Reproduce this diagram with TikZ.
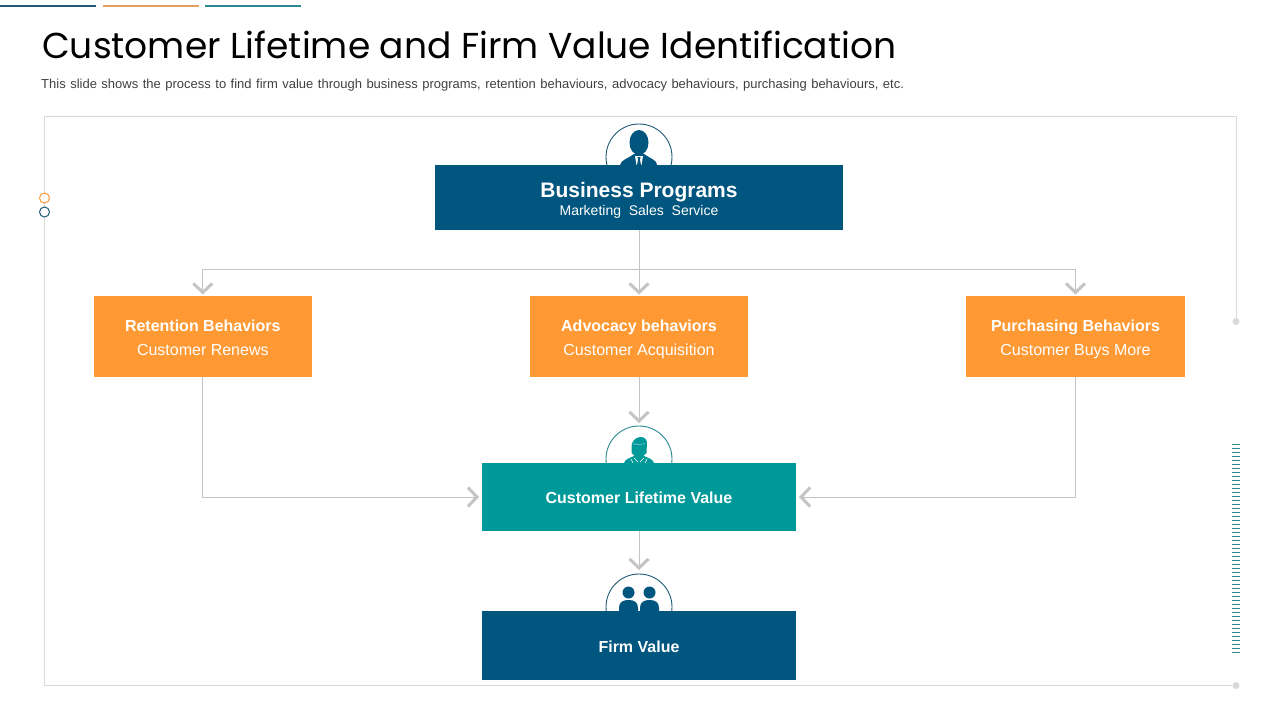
\documentclass[tikz,border=0pt]{standalone}
\usepackage{fontspec}
\setmainfont{Liberation Sans}
\newfontfamily\titlefont{Poppins}
\usetikzlibrary{arrows.meta,positioning,backgrounds}
\definecolor{navyblue}{HTML}{00567F}
\definecolor{darkbar}{HTML}{1F5B75}
\definecolor{orangebox}{HTML}{FF9933}
\definecolor{orangebar}{HTML}{E0A060}
\definecolor{tealbox}{HTML}{009999}
\definecolor{tealbar}{HTML}{2A8A8F}
\definecolor{framegray}{HTML}{D9D9D9}
\definecolor{flowgray}{HTML}{C6C3C7}
\newcommand{\orangeup}{\rule[-1pt]{0pt}{19.6pt}}
\newcommand{\orangelow}{\rule[-4pt]{0pt}{15pt}}
\newcommand{\lowline}{\rule[-3.5pt]{0pt}{20pt}}
\begin{document}
\begin{tikzpicture}[x=1pt,y=-1pt,
			block/.style = {shape=rectangle, align=center, text=white, inner sep=0pt, outer sep=0pt},
			navyblock/.style = {block, fill=navyblue, minimum width=408pt, minimum height=65pt},
			orangeblock/.style = {block, fill=orangebox, minimum width=218.6pt, minimum height=81pt, font=\fontsize{16}{24}\selectfont},
			lowblock/.style = {block, minimum width=314pt, font=\fontsize{16}{20}\selectfont\bfseries},
			ring/.style = {draw, shape=circle, fill=white, minimum size=66pt, inner sep=0pt, outer sep=0pt, line width=0.9pt},
			flow/.style = {draw=flowgray, line width=1pt, -{Straight Barb[length=9pt,width=19pt,line width=3pt]}, shorten >=1.5pt},
			topbar/.style = {line width=2pt},
			framedot/.style = {shape=circle, fill=framegray, minimum size=7pt, inner sep=0pt}
			]
			\useasboundingbox (0,0) rectangle (1280,720);
			% header
			\node [anchor=west, inner sep=0pt, font=\fontsize{36}{40}\titlefont] (title) at (42,45) {Customer Lifetime and Firm Value Identification};
			\node [anchor=west, inner sep=0pt, text=black!75, font=\fontsize{13}{15}\selectfont] (subtitle) at (41,85) {\spaceskip=4.5pt This slide shows the process to find firm value through business programs, retention behaviours, advocacy behaviours, purchasing behaviours, etc.};
			\draw[topbar,darkbar] (0,5.5) -- (96,5.5);
			\draw[topbar,orangebar] (103,5.5) -- (199,5.5);
			\draw[topbar,tealbar] (205,5.5) -- (301,5.5);
			% frame
			\node [framedot] (dotup) at (1236,321.5) {};
			\node [framedot] (dotlow) at (1236,685.5) {};
			\draw[framegray,line width=1pt] (dotup) -- (1236,116.5) -- (44.5,116.5) -- (44.5,685.5) -- (dotlow);
			\node [draw=orangebox, line width=1pt, shape=circle, fill=white, minimum size=10pt, inner sep=0pt] (ringa) at (44.5,198) {};
			\node [draw=darkbar, line width=1pt, shape=circle, fill=white, minimum size=10pt, inner sep=0pt] (ringb) at (44.5,212) {};
			\foreach \i in {0,...,52}
				\draw[tealbar,line width=0.8pt] (1232,444.5+4*\i) -- (1240,444.5+4*\i);
			% blocks
			\node [navyblock] (programs) at (639,197.5) {\rule{0pt}{20.5pt}{\fontsize{21}{22}\selectfont\bfseries Business Programs}\\[3pt]{\fontsize{14}{16}\selectfont\spaceskip=7.8pt Marketing Sales Service}};
			\node [orangeblock, below=66pt of programs] (advocacy) {\orangeup\textbf{Advocacy behaviors}\\\orangelow Customer Acquisition};
			\node [orangeblock, left=217.6pt of advocacy] (retention) {\orangeup\textbf{Retention Behaviors}\\\orangelow Customer Renews};
			\node [orangeblock, right=217.9pt of advocacy] (purchasing) {\orangeup\textbf{Purchasing Behaviors}\\\orangelow Customer Buys More};
			\node [lowblock, minimum height=68pt, fill=tealbox, below=86pt of advocacy] (lifetime) {\lowline Customer Lifetime Value};
			\node [lowblock, minimum height=69pt, fill=navyblue, below=80pt of lifetime] (firm) {\lowline Firm Value};
			% icons
			\begin{scope}[on background layer]
				\node [ring, draw=darkbar, above=-25pt of programs] (programsicon) {};
				\node [ring, draw=tealbar, above=-29pt of lifetime] (lifetimeicon) {};
				\node [ring, draw=darkbar, above=-29pt of firm] (firmicon) {};
				\begin{scope}[shift={(programsicon.center)}]
					\fill[navyblue] (0,-14.5) ellipse (9.5pt and 12.5pt);
					\fill[navyblue] (-19,8) .. controls (-18,3) and (-12,2) .. (-5,-3) -- (5,-3) .. controls (12,2) and (18,3) .. (18,8) -- cycle;
					\fill[white] (-4,-1) -- (4,-1) -- (2.5,8) -- (-2.5,8) -- cycle;
					\fill[navyblue] (-1.6,0) -- (1.6,0) -- (0.9,2.5) -- (2,8) -- (-2,8) -- (-0.9,2.5) -- cycle;
				\end{scope}
				\begin{scope}[shift={(lifetimeicon.center)}]
					\fill[tealbox] (-7.5,-12) .. controls (-8,-22) and (6,-26) .. (8,-17) -- (7.5,-6) .. controls (5.5,-1) and (-5.5,-1) .. (-7.5,-6) -- cycle;
					\fill[white!35!tealbox] (-6,-15) .. controls (-3,-13.5) and (3,-13.5) .. (6,-15.5) -- (6,-16.2) .. controls (3,-14.5) and (-3,-14.5) .. (-6,-16) -- cycle;
					\fill[tealbox] (-15,4) .. controls (-14,0) and (-9,-1) .. (-5,-3) -- (5,-3) .. controls (9,-1) and (14,0) .. (15,4) -- cycle;
					\draw[white,line width=0.6pt] (-5,-1) -- (-1,3) (5,-1) -- (1,3) (-8,0) -- (-6,4) (8,0) -- (6,4);
				\end{scope}
				\begin{scope}[shift={(firmicon.center)}]
					\fill[navyblue] (-10.5,-14.5) circle (6pt) (10.5,-14.5) circle (6pt);
					\fill[navyblue] (-20,4) -- (-20,1) .. controls (-20,-5) and (-16,-7) .. (-10.5,-7) .. controls (-5,-7) and (-1,-5) .. (-1,1) -- (-1,4) -- cycle;
					\fill[navyblue] (1,4) -- (1,1) .. controls (1,-5) and (5,-7) .. (10.5,-7) .. controls (16,-7) and (20,-5) .. (20,1) -- (20,4) -- cycle;
				\end{scope}
			\end{scope}
			% connectors
			\coordinate (branch) at ([yshift=-39pt]programs.south);
			\draw[flow] (programs) -- (advocacy);
			\draw[flow] (branch) -| (retention);
			\draw[flow] (branch) -| (purchasing);
			\draw[flow,shorten >=3pt] (advocacy) -- (lifetimeicon);
			\draw[flow,shorten >=4pt] (lifetime) -- (firmicon);
			\draw[flow,shorten >=3pt] (retention) |- (lifetime);
			\draw[flow,shorten >=3pt] (purchasing) |- (lifetime);
		\end{tikzpicture}
\end{document}
